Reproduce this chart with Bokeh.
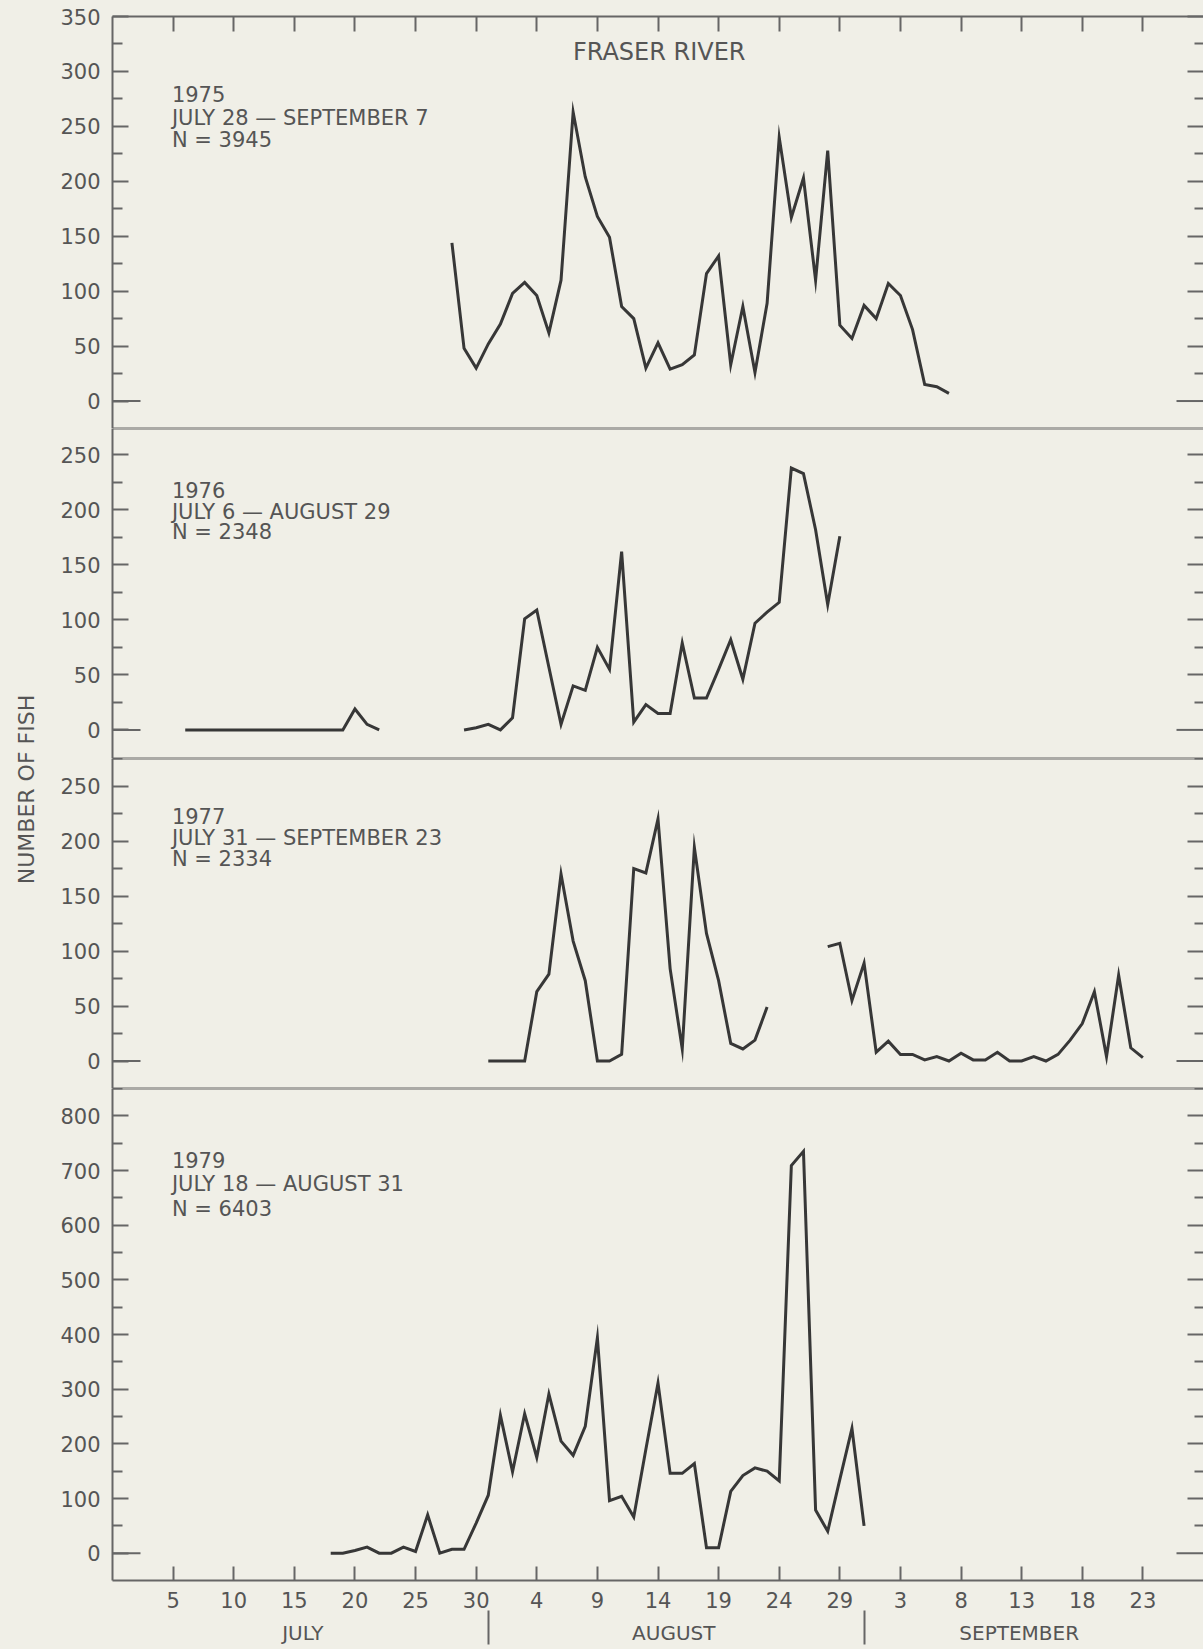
import math
import numpy as np
from bokeh.plotting import figure
from bokeh.layouts import row, column
from bokeh.models import (Range1d, LinearAxis, FixedTicker, Span, Label,
                          CustomLabelingPolicy)
from bokeh.embed import file_html
from bokeh.resources import INLINE

NAN = float("nan")

# Season day numbering: July 1 = 1, August 1 = 32, September 1 = 63
tick_days = [5, 10, 15, 20, 25, 30, 35, 40, 45, 50, 55, 60, 65, 70, 75, 80, 85]
tick_labels = ["5", "10", "15", "20", "25", "30", "4", "9", "14", "19",
               "24", "29", "3", "8", "13", "18", "23"]
month_names = ["JULY", "AUGUST", "SEPTEMBER"]

# Daily counts; each series starts on the season day given
start_1975 = 28   # July 28
count_1975 = [144, 48, 30, 52, 70, 98, 108, 96, 62, 110,
              263, 204, 168, 149, 86, 75, 30, 53, 29, 33,
              42, 116, 132, 33, 86, 26, 89, 240, 167, 203,
              110, 228, 69, 57, 87, 75, 107, 96, 65, 15,
              13, 7]

start_1976 = 6    # July 6
count_1976 = [0, 0, 0, 0, 0, 0, 0, 0, 0, 0, 0, 0, 0, 0,
              19, 5, 0,
              NAN, NAN, NAN, NAN, NAN, NAN,
              0, 2, 5, 0, 11, 101, 109, 57, 5, 40,
              36, 75, 55, 162, 7, 23, 15, 15, 79, 29,
              29, 55, 82, 46, 97, 107, 116, 238, 233, 182,
              114, 176]

start_1977 = 31   # July 31
count_1977 = [0, 0, 0, 0, 63, 79, 170, 109, 73, 0,
              0, 6, 175, 171, 220, 84, 11, 194, 116, 73,
              16, 11, 19, 49,
              NAN, NAN, NAN, NAN,
              104, 107, 55, 89, 8, 18, 6, 6, 1, 4,
              0, 7, 1, 1, 8, 0, 0, 4, 0, 6,
              19, 34, 63, 4, 78, 12, 3]

start_1979 = 18   # July 18
count_1979 = [0, 0, 5, 11, 0, 0, 11, 3, 70, 0,
              7, 7, 55, 106, 252, 149, 255, 175, 291, 205,
              179, 232, 394, 96, 104, 66, 190, 311, 146, 146,
              164, 10, 10, 113, 142, 156, 150, 132, 709, 735,
              79, 40, 135, 228, 50]

years = ["1975", "1976", "1977", "1979"]
periods = ["JULY 28 — SEPTEMBER 7", "JULY 6 — AUGUST 29",
           "JULY 31 — SEPTEMBER 23", "JULY 18 — AUGUST 31"]
totals = [3945, 2348, 2334, 6403]

PAPER = "#f0efe7"
INK = "#373737"
RULE = "#666666"
TEXT = "#555555"
FONT = "DejaVu Sans"

x_range = Range1d(0, 90)
PX_PER_DAY = 1091 / 90.0

# tick marks only, no tick labels
NO_LABELS = """
const keep = [];
for (const i of indices) keep.push(i);
for (const i of keep) indices.unset(i);
return indices;
"""


def bare_axis(ticker, tick_in, minor_in=0, line=False):
    return LinearAxis(ticker=ticker,
                      major_tick_in=tick_in, major_tick_out=0,
                      minor_tick_in=minor_in, minor_tick_out=0,
                      major_tick_line_color=RULE, major_tick_line_width=2,
                      minor_tick_line_color=RULE, minor_tick_line_width=2,
                      axis_line_color=RULE if line else None, axis_line_width=2,
                      major_label_policy=CustomLabelingPolicy(code=NO_LABELS),
                      major_label_text_font_size="0px",
                      major_label_standoff=0)


def panel(start, counts, y_lo, y_hi, step, frame_h, top_pad, bottom_pad,
          text_y, year, period, total):
    p = figure(width=1158, height=frame_h + top_pad + bottom_pad,
               x_range=x_range, y_range=Range1d(y_lo, y_hi),
               x_axis_location=None, y_axis_location=None,
               output_backend="svg", toolbar_location=None,
               min_border_left=67, min_border_right=0,
               min_border_top=top_pad, min_border_bottom=bottom_pad,
               background_fill_color=PAPER, border_fill_color=PAPER,
               outline_line_color=None)
    p.grid.visible = False

    top_val = int(math.floor(y_hi / (step / 2)) * (step / 2))
    majors = [v for v in range(0, top_val + 1, step)]
    minors = [v for v in range(step // 2, top_val + 1, step)]

    left = LinearAxis(ticker=FixedTicker(ticks=majors, minor_ticks=minors),
                      major_tick_in=16, major_tick_out=0,
                      minor_tick_in=10, minor_tick_out=0,
                      major_tick_line_color=RULE, major_tick_line_width=2,
                      minor_tick_line_color=RULE, minor_tick_line_width=2,
                      axis_line_color=RULE, axis_line_width=2,
                      major_label_text_font=FONT,
                      major_label_text_font_size="21px",
                      major_label_text_color=TEXT,
                      major_label_standoff=12)
    p.add_layout(left, "left")

    right = bare_axis(FixedTicker(ticks=[v for v in majors if v > 0],
                                  minor_ticks=minors), 16, 9)
    p.add_layout(right, "right")

    # longer zero marks on both sides
    p.segment(x0=[x_range.start], y0=[0], x1=[x_range.start + 28 / PX_PER_DAY], y1=[0],
              line_color=RULE, line_width=2)
    p.segment(x0=[x_range.end - 27 / PX_PER_DAY], y0=[0], x1=[x_range.end], y1=[0],
              line_color=RULE, line_width=2)

    days = np.arange(start, start + len(counts))
    p.line(x=days, y=np.array(counts, dtype=float), line_color=INK,
           line_width=3, line_join="miter")

    for txt, ty in zip([year, period, "N = %d" % total], text_y):
        p.add_layout(Label(x=4.9, y=ty, text=txt, text_font=FONT,
                           text_font_size="21px", text_color=TEXT,
                           text_align="left", text_baseline="middle"))
    return p


p1 = panel(start_1975, count_1975, -25, 350, 50, 412, 16, 0,
           [279.4, 257.3, 238.0], years[0], periods[0], totals[0])
p2 = panel(start_1976, count_1976, -26, 274, 50, 330, 0, 0,
           [218.5, 198.5, 179.5], years[1], periods[1], totals[1])
p3 = panel(start_1977, count_1977, -25, 275, 50, 330, 0, 0,
           [222.3, 202.3, 183.2], years[2], periods[2], totals[2])
p4 = panel(start_1979, count_1979, -50, 850, 100, 492, 0, 69,
           [720.0, 674.4, 628.7], years[3], periods[3], totals[3])

# frame top with inward day ticks
p1.add_layout(bare_axis(FixedTicker(ticks=tick_days), 15, line=True), "above")
p1.add_layout(Label(x=45.1, y=317.6, text="FRASER RIVER", text_font=FONT,
                    text_font_size="24px", text_color=TEXT,
                    text_align="center", text_baseline="middle"))

# panel dividers
for upper, lower in [(p1, p2), (p2, p3), (p3, p4)]:
    upper.add_layout(Span(location=upper.y_range.start, dimension="width",
                          line_color=RULE, line_width=2))
    lower.add_layout(Span(location=lower.y_range.end, dimension="width",
                          line_color=RULE, line_width=2))

# day axis at the bottom
bottom = LinearAxis(ticker=FixedTicker(ticks=tick_days),
                    major_tick_in=14, major_tick_out=0,
                    minor_tick_in=0, minor_tick_out=0,
                    major_tick_line_color=RULE, major_tick_line_width=2,
                    axis_line_color=RULE, axis_line_width=2,
                    major_label_overrides=dict(zip(tick_days, tick_labels)),
                    major_label_text_font=FONT, major_label_text_font_size="21px",
                    major_label_text_color=TEXT, major_label_standoff=11)
p4.add_layout(bottom, "below")

# month names, with month boundaries marked below the day labels
month_mid = [15.7, 46.3, 74.8]
month_edge = [31, 62]
months = LinearAxis(ticker=FixedTicker(ticks=month_mid, minor_ticks=month_edge),
                    major_tick_in=0, major_tick_out=0,
                    minor_tick_in=0, minor_tick_out=34,
                    minor_tick_line_color=RULE, minor_tick_line_width=2,
                    axis_line_color=None,
                    major_label_overrides=dict(zip(month_mid, month_names)),
                    major_label_text_font=FONT, major_label_text_font_size="20px",
                    major_label_text_color=TEXT, major_label_standoff=-24)
p4.add_layout(months, "below")

# vertical axis title spanning the stack
side = figure(width=45, height=1649, x_range=Range1d(0, 45), y_range=Range1d(0, 1649),
              x_axis_location=None, y_axis_location=None,
              output_backend="svg", toolbar_location=None, min_border=0,
              background_fill_color=PAPER, border_fill_color=PAPER,
              outline_line_color=None)
side.grid.visible = False
side.add_layout(Label(x=26, y=860, text="NUMBER OF FISH", angle=math.pi / 2,
                      text_font=FONT, text_font_size="22px", text_color=TEXT,
                      text_align="center", text_baseline="middle"))

stack = column(p1, p2, p3, p4, styles={"background-color": PAPER})
layout = row(side, stack, styles={"background-color": PAPER})
open("out.html", "w").write(file_html(layout, INLINE))
